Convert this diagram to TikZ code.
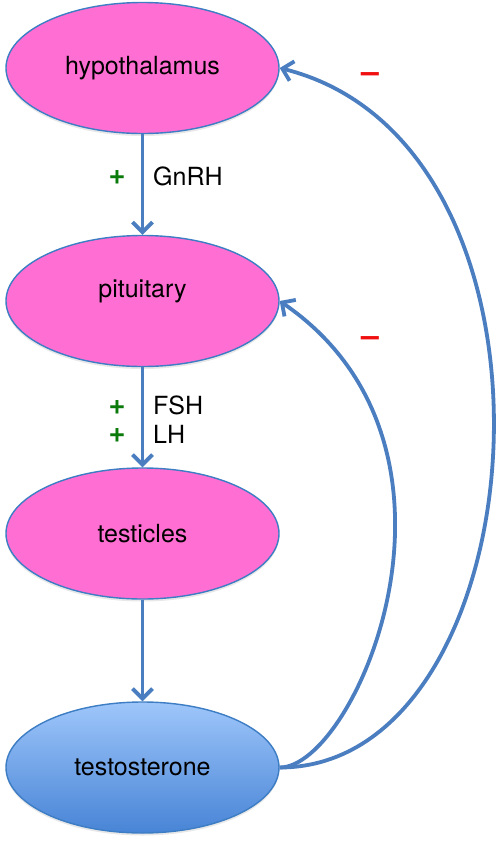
\documentclass[tikz,border=0pt]{standalone}
\usepackage{fontspec}
\setmainfont{TeX Gyre Heros}
\usetikzlibrary{arrows.meta,shapes.geometric,shadows}
\definecolor{linkblue}{HTML}{4A7EC0}
\definecolor{organpink}{HTML}{FF6ED2}
\definecolor{edgeblue}{HTML}{3C7DC4}
\definecolor{plusgreen}{HTML}{0A7A0A}
\definecolor{minusred}{HTML}{F01010}
\definecolor{hormtop}{HTML}{9EC6FA}
\definecolor{hormbot}{HTML}{4884D6}
\begin{document}
\begin{tikzpicture}[x=1pt,y=-1pt,
  organ/.style={ellipse, draw=edgeblue, line width=1.4pt, fill=organpink,
    minimum width=273pt, minimum height=131pt, inner sep=0pt,
    font=\fontsize{25}{30}\selectfont,
    drop shadow={opacity=0.18, shadow xshift=0pt, shadow yshift=-2.5pt}},
  hormone/.style={organ, top color=hormtop, bottom color=hormbot},
  organtext/.style={inner sep=0pt, font=\fontsize{25}{30}\selectfont},
  conn/.style={draw=linkblue, line width=3.8pt, -{Straight Barb[length=10pt,width=20pt]}},
  lbl/.style={inner sep=0pt, anchor=west, font=\fontsize{25}{30}\selectfont},
  plussign/.style={inner sep=0pt, anchor=base, text=plusgreen, font=\fontsize{29}{30}\selectfont\bfseries},
  minussign/.style={inner sep=0pt, anchor=base, text=minusred, font=\fontsize{32}{36}\selectfont\bfseries}]
\fill[white] (0,0) rectangle (500,844);
\useasboundingbox (0,0) rectangle (500,844);

\node[organ] (hyp) at (142.5,68) {hypothalamus};
\node[organ] (pit) at (142.5,301) {};
\node[organtext] (pittext) at (142.5,291) {pituitary};
\node[organ] (tst) at (142.5,533.5) {testicles};
\node[hormone] (ter) at (142.5,767.5) {testosterone};

\draw[conn] (hyp.south) -- (pit.north);
\draw[conn] (pit.south) -- (tst.north);
\draw[conn] (tst.south) -- (ter.north);

\draw[conn] (ter.east) .. controls (540,767.5) and (588,145) .. (hyp.east);
\draw[conn] (ter.east) .. controls (356,767.5) and (494,448) .. (pit.east);

\node[plussign] (plusa) at (117,184) {+};
\node[lbl] (gnrh) at (153,176) {GnRH};
\node[plussign] (plusb) at (117,414) {+};
\node[lbl] (fsh) at (153,405) {FSH};
\node[plussign] (plusc) at (117,442) {+};
\node[lbl] (lh) at (153,434) {LH};

\node[minussign] (minusa) at (370,82) {–};
\node[minussign] (minusb) at (370,346) {–};
\end{tikzpicture}
\end{document}
